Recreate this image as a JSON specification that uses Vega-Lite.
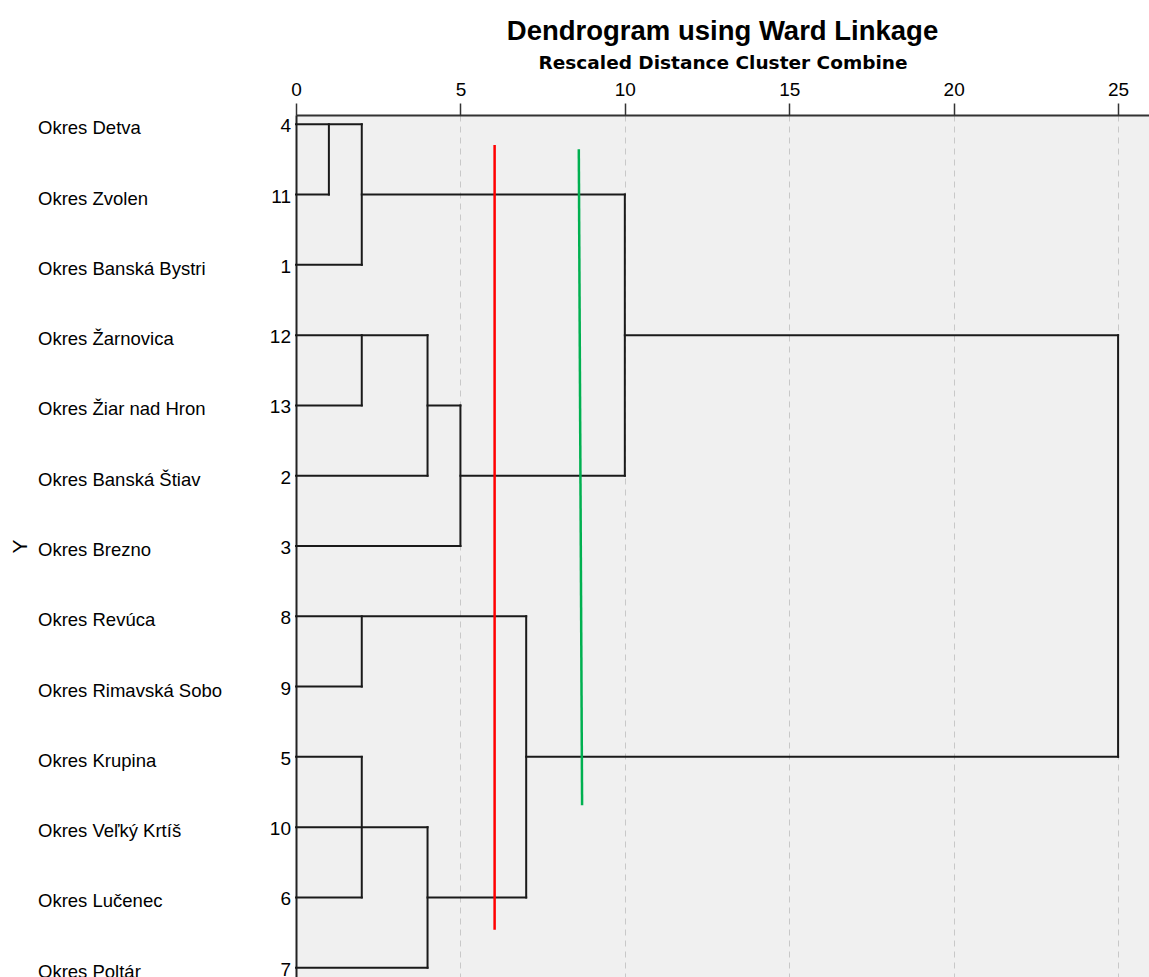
{
  "$schema": "https://vega.github.io/schema/vega-lite/v6.json",
  "width": 853,
  "height": 862,
  "autosize": {"type": "none"},
  "padding": {"left": 296, "top": 115, "right": 0, "bottom": 0},
  "background": "white",
  "config": {
    "view": {"fill": "#f0f0f0", "stroke": "#8a8a8a", "strokeWidth": 1},
    "font": "Liberation Sans"
  },
  "title": {
    "text": "Dendrogram using Ward Linkage",
    "font": "Liberation Sans",
    "fontSize": 27.5,
    "fontWeight": "bold",
    "anchor": "middle",
    "frame": "group",
    "color": "#000000",
    "offset": 8
  },
  "datasets": {
    "segments": [
      {"x": 0, "x2": 2, "y": 0, "y2": 0},
      {"x": 0, "x2": 1, "y": 1, "y2": 1},
      {"x": 1, "x2": 1, "y": 0, "y2": 1},
      {"x": 0, "x2": 2, "y": 2, "y2": 2},
      {"x": 2, "x2": 2, "y": 0, "y2": 2},
      {"x": 2, "x2": 10, "y": 1, "y2": 1},
      {"x": 0, "x2": 4, "y": 3, "y2": 3},
      {"x": 0, "x2": 2, "y": 4, "y2": 4},
      {"x": 2, "x2": 2, "y": 3, "y2": 4},
      {"x": 0, "x2": 4, "y": 5, "y2": 5},
      {"x": 4, "x2": 4, "y": 3, "y2": 5},
      {"x": 4, "x2": 5, "y": 4, "y2": 4},
      {"x": 0, "x2": 5, "y": 6, "y2": 6},
      {"x": 5, "x2": 5, "y": 4, "y2": 6},
      {"x": 5, "x2": 10, "y": 5, "y2": 5},
      {"x": 10, "x2": 10, "y": 1, "y2": 5},
      {"x": 10, "x2": 25, "y": 3, "y2": 3},
      {"x": 25, "x2": 25, "y": 3, "y2": 9},
      {"x": 0, "x2": 7, "y": 7, "y2": 7},
      {"x": 0, "x2": 2, "y": 8, "y2": 8},
      {"x": 2, "x2": 2, "y": 7, "y2": 8},
      {"x": 0, "x2": 2, "y": 9, "y2": 9},
      {"x": 0, "x2": 4, "y": 10, "y2": 10},
      {"x": 0, "x2": 2, "y": 11, "y2": 11},
      {"x": 2, "x2": 2, "y": 9, "y2": 11},
      {"x": 0, "x2": 4, "y": 12, "y2": 12},
      {"x": 4, "x2": 4, "y": 10, "y2": 12},
      {"x": 4, "x2": 7, "y": 11, "y2": 11},
      {"x": 7, "x2": 7, "y": 7, "y2": 11},
      {"x": 7, "x2": 25, "y": 9, "y2": 9}
    ],
    "cuts": [
      {"cut": "red", "x": 6.04, "x2": 6.04, "y": 0.295, "y2": 11.46},
      {"cut": "green", "x": 8.6, "x2": 8.7, "y": 0.354, "y2": 9.69}
    ],
    "leaves": [
      {"idx": 0, "name": "Okres Detva", "case": "4"},
      {"idx": 1, "name": "Okres Zvolen", "case": "11"},
      {"idx": 2, "name": "Okres Banská Bystri", "case": "1"},
      {"idx": 3, "name": "Okres Žarnovica", "case": "12"},
      {"idx": 4, "name": "Okres Žiar nad Hron", "case": "13"},
      {"idx": 5, "name": "Okres Banská Štiav", "case": "2"},
      {"idx": 6, "name": "Okres Brezno", "case": "3"},
      {"idx": 7, "name": "Okres Revúca", "case": "8"},
      {"idx": 8, "name": "Okres Rimavská Sobo", "case": "9"},
      {"idx": 9, "name": "Okres Krupina", "case": "5"},
      {"idx": 10, "name": "Okres Veľký Krtíš", "case": "10"},
      {"idx": 11, "name": "Okres Lučenec", "case": "6"},
      {"idx": 12, "name": "Okres Poltár", "case": "7"}
    ]
  },
  "layer": [
    {
      "data": {"name": "segments"},
      "mark": {"type": "rule", "color": "#1a1a1a", "strokeWidth": 2, "strokeCap": "square"},
      "encoding": {
        "x": {
          "field": "x",
          "type": "quantitative",
          "scale": {"domain": [0, 25.94], "nice": false, "zero": false},
          "axis": {
            "orient": "top",
            "values": [0, 5, 10, 15, 20, 25],
            "title": "Rescaled Distance Cluster Combine",
            "titleFont": "DejaVu Sans",
            "titleFontSize": 18.5,
            "titleFontWeight": "bold",
            "titleColor": "#000000",
            "titleBaseline": "alphabetic",
            "titleY": -47,
            "domainColor": "#333333",
            "domainWidth": 2,
            "tickColor": "#333333",
            "tickWidth": 1.5,
            "tickSize": 12,
            "labelPadding": 8,
            "labelBaseline": "alphabetic",
            "labelFont": "Liberation Sans",
            "labelFontSize": 19,
            "labelColor": "#000000",
            "labelFlush": false,
            "labelOverlap": false,
            "grid": true,
            "gridColor": "#c8c8c8",
            "gridDash": [6, 5],
            "gridWidth": 1
          }
        },
        "x2": {"field": "x2"},
        "y": {
          "field": "y",
          "type": "quantitative",
          "scale": {"domain": [-0.132, 12.132], "reverse": true, "nice": false, "zero": false},
          "axis": {
            "title": "Y",
            "titleFont": "Liberation Sans",
            "titleFontSize": 21,
            "titleFontWeight": "normal",
            "titleColor": "#000000",
            "titleAngle": 270,
            "titleAlign": "center",
            "titleBaseline": "middle",
            "titleX": -276,
            "titleY": 431,
            "labels": false,
            "ticks": false,
            "grid": false,
            "domainColor": "#222222",
            "domainWidth": 2
          }
        },
        "y2": {"field": "y2"}
      }
    },
    {
      "data": {"name": "cuts"},
      "mark": {"type": "rule", "strokeWidth": 2.5},
      "encoding": {
        "x": {"field": "x", "type": "quantitative"},
        "x2": {"field": "x2"},
        "y": {"field": "y", "type": "quantitative"},
        "y2": {"field": "y2"},
        "color": {
          "field": "cut",
          "type": "nominal",
          "scale": {"domain": ["red", "green"], "range": ["#ff0000", "#00b050"]},
          "legend": null
        }
      }
    },
    {
      "data": {"name": "leaves"},
      "mark": {"type": "text", "align": "right", "baseline": "middle", "dx": -5, "dy": 2, "font": "Liberation Sans", "fontSize": 19, "color": "#000000"},
      "encoding": {
        "x": {"datum": 0, "type": "quantitative"},
        "y": {"field": "idx", "type": "quantitative"},
        "text": {"field": "case", "type": "nominal"}
      }
    },
    {
      "data": {"name": "leaves"},
      "mark": {"type": "text", "align": "left", "baseline": "middle", "dx": -258, "dy": 4, "font": "Liberation Sans", "fontSize": 18.5, "color": "#000000"},
      "encoding": {
        "x": {"datum": 0, "type": "quantitative"},
        "y": {"field": "idx", "type": "quantitative"},
        "text": {"field": "name", "type": "nominal"}
      }
    }
  ]
}
